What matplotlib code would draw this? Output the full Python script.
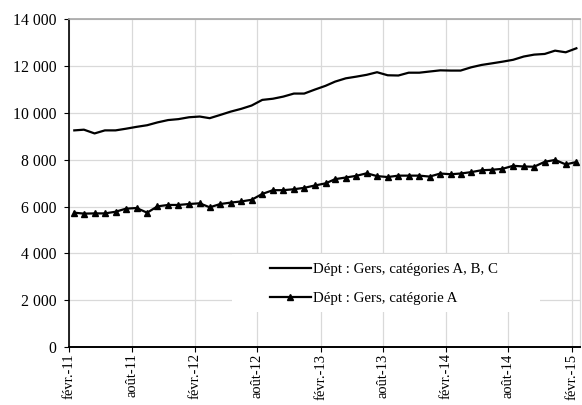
import numpy as np
import pandas as pd
import matplotlib
matplotlib.use('Agg')
import matplotlib.pyplot as plt
from matplotlib.patches import Rectangle
from matplotlib.ticker import FuncFormatter


# Monthly data, févr. 2011 -> févr. 2015
months = pd.date_range('2011-02-01', '2015-02-01', freq='MS') + pd.Timedelta(days=14)

abc_values = [9250, 9280, 9120, 9250, 9250, 9320, 9400, 9470, 9590, 9690,
              9730, 9810, 9840, 9770, 9910, 10050, 10170, 10310, 10550, 10600,
              10690, 10820, 10820, 10990, 11150, 11330, 11470, 11540, 11620, 11730,
              11600, 11590, 11710, 11710, 11760, 11810, 11800, 11800, 11940, 12040,
              12110, 12180, 12260, 12400, 12480, 12510, 12650, 12580, 12750]

a_values = [5740, 5700, 5710, 5710, 5780, 5910, 5940, 5740, 6010, 6070,
            6070, 6110, 6140, 5970, 6110, 6170, 6220, 6290, 6540, 6700,
            6700, 6740, 6800, 6900, 6990, 7170, 7240, 7310, 7420, 7300,
            7260, 7320, 7320, 7320, 7280, 7410, 7380, 7410, 7470, 7550,
            7570, 7610, 7740, 7710, 7700, 7910, 7990, 7800, 7900]

series_labels = ['Dépt : Gers, catégories A, B, C', 'Dépt : Gers, catégorie A']

tick_dates = pd.date_range('2011-02-01', '2015-02-01', freq='6MS')
tick_labels = ['févr.-11', 'août-11', 'févr.-12', 'août-12', 'févr.-13',
               'août-13', 'févr.-14', 'août-14', 'févr.-15']

y_ticks = [0, 2000, 4000, 6000, 8000, 10000, 12000, 14000]


plt.rcParams['font.family'] = ['Liberation Serif', 'DejaVu Serif']

fig = plt.figure(figsize=(5.82, 4.05), dpi=100)
ax = fig.add_axes([0.1194, 0.1425, 0.8780, 0.8106])

# Series
ax.plot(months, abc_values, color='black', lw=1.6, label=series_labels[0], zorder=3)
ax.plot(months, a_values, color='black', lw=1.6, marker='^', markersize=4.5,
        label=series_labels[1], zorder=3)

# Axes limits / ticks
ax.set_xlim(pd.Timestamp('2011-02-01'), pd.Timestamp('2015-02-27'))
ax.set_ylim(0, 14000)
ax.set_yticks(y_ticks)
ax.yaxis.set_major_formatter(FuncFormatter(lambda v, p: f'{int(v):,}'.replace(',', ' ')))
ax.set_xticks(tick_dates)
ax.set_xticklabels(tick_labels, rotation=90, va='top', ha='center')

ax.tick_params(axis='y', length=3.4, width=0.8, pad=6, labelsize=11.3)
ax.tick_params(axis='x', length=3.4, width=0.8, pad=1, labelsize=10.5)

# Grid and frame
ax.set_axisbelow(True)
ax.grid(True, color='#d9d9d9', lw=0.9)
ax.spines['left'].set_color('black')
ax.spines['left'].set_linewidth(1.2)
ax.spines['bottom'].set_color('black')
ax.spines['bottom'].set_linewidth(1.4)
ax.spines['top'].set_color('#a6a6a6')
ax.spines['top'].set_linewidth(1.2)
ax.spines['right'].set_color('#d9d9d9')
ax.spines['right'].set_linewidth(0.9)

# White legend background hiding the gridlines
ax.add_patch(Rectangle((0.318, 0.1075), 0.603, 0.1765, transform=ax.transAxes,
                       facecolor='white', edgecolor='none', zorder=1))

leg = ax.legend(loc='center left', bbox_to_anchor=(0.392, 0.194), frameon=False,
                borderpad=0, borderaxespad=0, handlelength=2.75, handletextpad=0.15,
                labelspacing=1.05, numpoints=1, fontsize=10.7)

plt.savefig('out.png', dpi=100)
